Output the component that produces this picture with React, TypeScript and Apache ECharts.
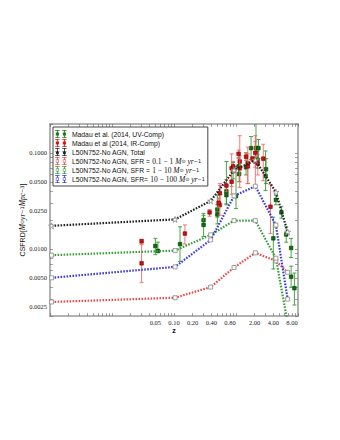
import React, { useEffect, useRef } from "react";
import * as echarts from "echarts";

// ---------- data ----------
// simulation snapshots (redshift)
const simZ = [0.00106, 0.104, 0.39, 0.93, 2.05, 4.4, 6.8];
const simTotal = [0.0174, 0.0203, 0.0316, 0.066, 0.084, 0.039, 0.015];
const simLow = [0.0028, 0.0031, 0.004, 0.0064, 0.0091, 0.0075, 0.0057]; // SFR 0.1-1
const simMid = [0.0086, 0.0096, 0.014, 0.0197, 0.0197, 0.008, 0.0017]; // SFR 1-10
const simHigh = [0.005, 0.0065, 0.0124, 0.0356, 0.045, 0.0177, 0.003]; // SFR 10-100

// Madau & Dickinson (2014) UV compilation
const uvZ = [0.055, 0.3, 0.5, 0.7, 1.0, 0.05, 0.125, 0.3, 0.5, 0.7, 0.9, 1.1, 1.45, 2.1, 3.0, 4.0, 1.125, 1.75, 2.225, 2.3, 3.05, 4.4, 5.4, 6.45, 7.75, 7.75, 8.75];
const uvVal = [0.00955, 0.01995, 0.0257, 0.0398, 0.0355, 0.01072, 0.01122, 0.01778, 0.0229, 0.0363, 0.0646, 0.0724, 0.0708, 0.1122, 0.0575, 0.01288, 0.0603, 0.1122, 0.0851, 0.1122, 0.0676, 0.0324, 0.024, 0.01413, 0.01023, 0.00513, 0.0039];
const uvLo = [0.00912, 0.01778, 0.0214, 0.0295, 0.0263, 0.00871, 0.00741, 0.01349, 0.0182, 0.0288, 0.0537, 0.0589, 0.0589, 0.0912, 0.0407, 0.00617, 0.0501, 0.0851, 0.0692, 0.0871, 0.0479, 0.0288, 0.0209, 0.01175, 0.00813, 0.00398, 0.0026];
const uvHi = [0.01175, 0.02239, 0.0363, 0.0813, 0.0724, 0.01288, 0.017, 0.02344, 0.0288, 0.0457, 0.0794, 0.0891, 0.1, 0.347, 0.1047, 0.0214, 0.0724, 0.148, 0.1047, 0.138, 0.0871, 0.0363, 0.0275, 0.017, 0.01288, 0.00661, 0.0056];

// Madau & Dickinson (2014) IR compilation
const irZ = [0.03, 0.03, 0.55, 0.85, 1.15, 1.55, 2.05, 0.55, 0.85, 1.15, 1.55, 2.05, 0.15, 0.375, 0.525, 0.7, 0.9, 1.1, 1.45, 1.85, 2.25, 2.75, 3.6];
const irVal = [0.01202, 0.00708, 0.0288, 0.0692, 0.0813, 0.0776, 0.0813, 0.038, 0.0501, 0.0692, 0.0724, 0.1, 0.01445, 0.024, 0.0302, 0.0457, 0.0724, 0.0977, 0.0912, 0.0871, 0.0776, 0.0871, 0.0275];
const irLo = [0.01122, 0.00447, 0.0224, 0.0447, 0.0501, 0.0479, 0.0457, 0.0295, 0.0372, 0.0437, 0.0479, 0.0708, 0.01122, 0.0219, 0.0269, 0.0398, 0.0631, 0.0871, 0.0832, 0.0813, 0.0589, 0.0513, 0.0145];
const irHi = [0.01259, 0.01122, 0.0479, 0.0977, 0.151, 0.1148, 0.1318, 0.0457, 0.0631, 0.0933, 0.0977, 0.151, 0.01778, 0.0257, 0.0339, 0.0525, 0.0813, 0.1072, 0.1, 0.0912, 0.0955, 0.123, 0.0468];

// axis ticks / labels
const xLabelValues = [0.05, 0.1, 0.2, 0.4, 0.8, 2, 4, 8];
const yLabelValues = [0.0025, 0.005, 0.01, 0.025, 0.05, 0.1];
const xTickValues = [
  0.001, 0.002, 0.003, 0.004, 0.005, 0.006, 0.007, 0.008, 0.009,
  0.01, 0.02, 0.03, 0.04, 0.05, 0.06, 0.07, 0.08, 0.09,
  0.1, 0.2, 0.3, 0.4, 0.5, 0.6, 0.7, 0.8, 0.9,
  1, 2, 3, 4, 5, 6, 7, 8, 9, 10,
];
const yTickValues = [
  0.002, 0.003, 0.004, 0.005, 0.006, 0.007, 0.008, 0.009,
  0.01, 0.02, 0.03, 0.04, 0.05, 0.06, 0.07, 0.08, 0.09,
  0.1, 0.2,
];

const names = [
  "Madau et al. (2014, UV-Comp)",
  "Madau et al (2014, IR-Comp)",
  "L50N752-No AGN, Total",
  "L50N752-No AGN, SFR = 0.1 − 1",
  "L50N752-No AGN, SFR = 1 − 10",
  "L50N752-No AGN, SFR= 10 − 100",
];

// ---------- helpers ----------
const AX = "#999";
const starPath =
  "path://M5,0L6.2,3.6L10,3.6L6.9,5.8L8.1,9.5L5,7.2L1.9,9.5L3.1,5.8L0,3.6L3.8,3.6Z";

function ebIcon(open: boolean, star: boolean) {
  let d = "";
  for (const cx of [2.5, 9.5]) {
    d += `M${cx - 2.2},0H${cx + 2.2}V0.7H${cx - 2.2}Z`;
    d += `M${cx - 2.2},7.3H${cx + 2.2}V8H${cx - 2.2}Z`;
    if (star) {
      d += `M${cx - 0.4},0H${cx + 0.4}V8H${cx - 0.4}Z`;
      d += `M${cx},1.8L${cx + 0.8},3.4L${cx + 2.4},3.6L${cx + 1.2},4.8L${cx + 1.6},6.4L${cx},5.6L${cx - 1.6},6.4L${cx - 1.2},4.8L${cx - 2.4},3.6L${cx - 0.8},3.4Z`;
    } else if (open) {
      d += `M${cx - 0.4},0H${cx + 0.4}V2.4H${cx - 0.4}Z`;
      d += `M${cx - 0.4},5.6H${cx + 0.4}V8H${cx - 0.4}Z`;
      d += `M${cx - 1.6},2.4H${cx + 1.6}V5.6H${cx - 1.6}Z`;
      d += `M${cx - 1.0},3.0V5.0H${cx + 1.0}V3.0Z`;
    } else {
      d += `M${cx - 0.4},0H${cx + 0.4}V8H${cx - 0.4}Z`;
      d += `M${cx - 1.6},2.4H${cx + 1.6}V5.6H${cx - 1.6}Z`;
    }
  }
  return "path://" + d;
}

function errRender(barColor: string, fill: string, edge: string) {
  return (params: any, api: any) => {
    const x = api.value(0);
    const p = api.coord([x, api.value(1)]);
    const pl = api.coord([x, api.value(2)]);
    const ph = api.coord([x, api.value(3)]);
    const cs = params.coordSys;
    const top = cs.y;
    const bot = cs.y + cs.height;
    const yh = Math.max(ph[1], top);
    const yl = Math.min(pl[1], bot);
    const cap = 2;
    const ls = { stroke: barColor, lineWidth: 1 };
    const children: any[] = [
      { type: "line", shape: { x1: p[0], y1: yh, x2: p[0], y2: yl }, style: ls },
    ];
    if (ph[1] >= top)
      children.push({ type: "line", shape: { x1: p[0] - cap, y1: ph[1], x2: p[0] + cap, y2: ph[1] }, style: ls });
    if (pl[1] <= bot)
      children.push({ type: "line", shape: { x1: p[0] - cap, y1: pl[1], x2: p[0] + cap, y2: pl[1] }, style: ls });
    children.push({
      type: "rect",
      shape: { x: p[0] - 1.8, y: p[1] - 1.8, width: 3.6, height: 3.6 },
      style: { fill, stroke: edge, lineWidth: 0.6 },
    });
    return { type: "group", children };
  };
}

function simSeries(name: string, vals: number[], color: string, star: boolean) {
  return {
    name,
    type: "line",
    data: simZ.map((z, i) => [z, vals[i]]),
    symbol: star ? starPath : "rect",
    symbolSize: star ? 6 : 4,
    itemStyle: { color: "#fff", borderColor: "#888", borderWidth: 0.8 },
    lineStyle: { color, width: 2.2, type: [1.6, 1.4] },
    z: 3,
  };
}

const mathRich = {
  i: { fontStyle: "italic", fontFamily: "Liberation Serif", fontSize: 7.5, color: "#111" },
  r: { fontFamily: "Liberation Serif", fontSize: 7.5, color: "#111" },
  s: { fontFamily: "DejaVu Sans", fontSize: 5, color: "#111" },
};

const legendFormat: Record<string, string> = {
  [names[0]]: names[0],
  [names[1]]: names[1],
  [names[2]]: names[2],
  [names[3]]: "L50N752-No AGN, SFR = {r|0.1 − 1 }{i|M}{s|⊙}{i| yr}{s|−1}",
  [names[4]]: "L50N752-No AGN, SFR = {r|1 − 10 }{i|M}{s|⊙}{i| yr}{s|−1}",
  [names[5]]: "L50N752-No AGN, SFR= {r|10 − 100 }{i|M}{s|⊙}{i| yr}{s|−1}",
};

function legendItem(name: string, icon: string, color: string) {
  return { name, icon, itemStyle: { color, borderColor: color, borderWidth: 0, opacity: 1 } };
}

export default function App() {
  const ref = useRef<HTMLDivElement>(null);
  useEffect(() => {
    const chart = echarts.init(ref.current!, null, { renderer: "svg" });
    const xBase = {
      type: "log",
      logBase: 10,
      min: 0.001,
      max: 10,
      axisLine: { lineStyle: { color: AX, width: 1.5 } },
      axisTick: { inside: true, length: 3, customValues: xTickValues, lineStyle: { color: "#666", width: 0.6 } },
      splitLine: { show: false },
      minorTick: { show: false },
    };
    const yBase = {
      type: "log",
      logBase: 10,
      min: 0.002,
      max: 0.2,
      axisLine: { lineStyle: { color: AX, width: 1.5 } },
      axisTick: { inside: true, length: 3, customValues: yTickValues, lineStyle: { color: "#666", width: 0.6 } },
      splitLine: { show: false },
      minorTick: { show: false },
    };
    const option: any = {
      animation: false,
      backgroundColor: "#fff",
      grid: { left: 50, top: 124, width: 248, height: 192 },
      xAxis: [
        {
          ...xBase,
          position: "bottom",
          name: "z",
          nameLocation: "middle",
          nameGap: 11,
          nameMoveOverlap: false,
          nameTextStyle: { fontSize: 7, fontFamily: "Liberation Sans", fontWeight: "bold", color: "#111" },
          axisLabel: {
            customValues: xLabelValues,
            formatter: (v: number) => v.toFixed(2),
            fontSize: 6.5,
            fontFamily: "Liberation Serif",
            color: "#222",
            margin: 3,
          },
        },
        { ...xBase, position: "top", axisLabel: { show: false } },
      ],
      yAxis: [
        {
          ...yBase,
          position: "left",
          name: "CSFRD[{i|M}{s|⊙}{i|yr}{s|−1}{i|Mpc}{s|−3}]",
          nameLocation: "middle",
          nameGap: 24,
          nameMoveOverlap: false,
          nameRotate: 90,
          nameTextStyle: { fontSize: 7, fontFamily: "Liberation Sans", color: "#111", rich: mathRich },
          axisLabel: {
            customValues: yLabelValues,
            formatter: (v: number) => v.toFixed(4),
            fontSize: 6.5,
            fontFamily: "Liberation Serif",
            color: "#222",
            margin: 3,
          },
        },
        { ...yBase, position: "right", axisLabel: { show: false } },
      ],
      legend: {
        left: 53,
        top: 127,
        orient: "vertical",
        itemGap: 1,
        itemWidth: 12,
        itemHeight: 8,
        padding: [3, 3, 3, 2],
        backgroundColor: "#fff",
        borderColor: "#444",
        borderWidth: 1,
        textStyle: { fontSize: 6.8, fontFamily: "Liberation Sans", color: "#111", rich: mathRich },
        formatter: (n: string) => legendFormat[n] || n,
        data: [
          legendItem(names[0], ebIcon(false, false), "#1b7a1b"),
          legendItem(names[1], ebIcon(false, false), "#d01818"),
          legendItem(names[2], ebIcon(false, true), "#222"),
          legendItem(names[3], ebIcon(true, false), "#e84a4a"),
          legendItem(names[4], ebIcon(true, false), "#3c9c3c"),
          legendItem(names[5], ebIcon(true, false), "#3a3ae0"),
        ],
      },
      series: [
        {
          name: names[0],
          type: "custom",
          data: uvZ.map((z, i) => [z, uvVal[i], uvLo[i], uvHi[i]]),
          encode: { x: 0, y: 1 },
          renderItem: errRender("rgba(40,150,40,0.85)", "#0e6e0e", "#063d06"),
          z: 2,
        },
        {
          name: names[1],
          type: "custom",
          data: irZ.map((z, i) => [z, irVal[i], irLo[i], irHi[i]]),
          encode: { x: 0, y: 1 },
          renderItem: errRender("rgba(240,90,90,0.8)", "#d01010", "#700000"),
          z: 2,
        },
        simSeries(names[2], simTotal, "#222", true),
        simSeries(names[3], simLow, "#e84a4a", false),
        simSeries(names[4], simMid, "#3c9c3c", false),
        simSeries(names[5], simHigh, "#3a3ae0", false),
      ],
    };
    chart.setOption(option);
    return () => chart.dispose();
  }, []);
  return (
    <div
      ref={ref}
      style={{ position: "absolute", left: 0, top: 0, width: 340, height: 440, background: "#fff" }}
    />
  );
}
